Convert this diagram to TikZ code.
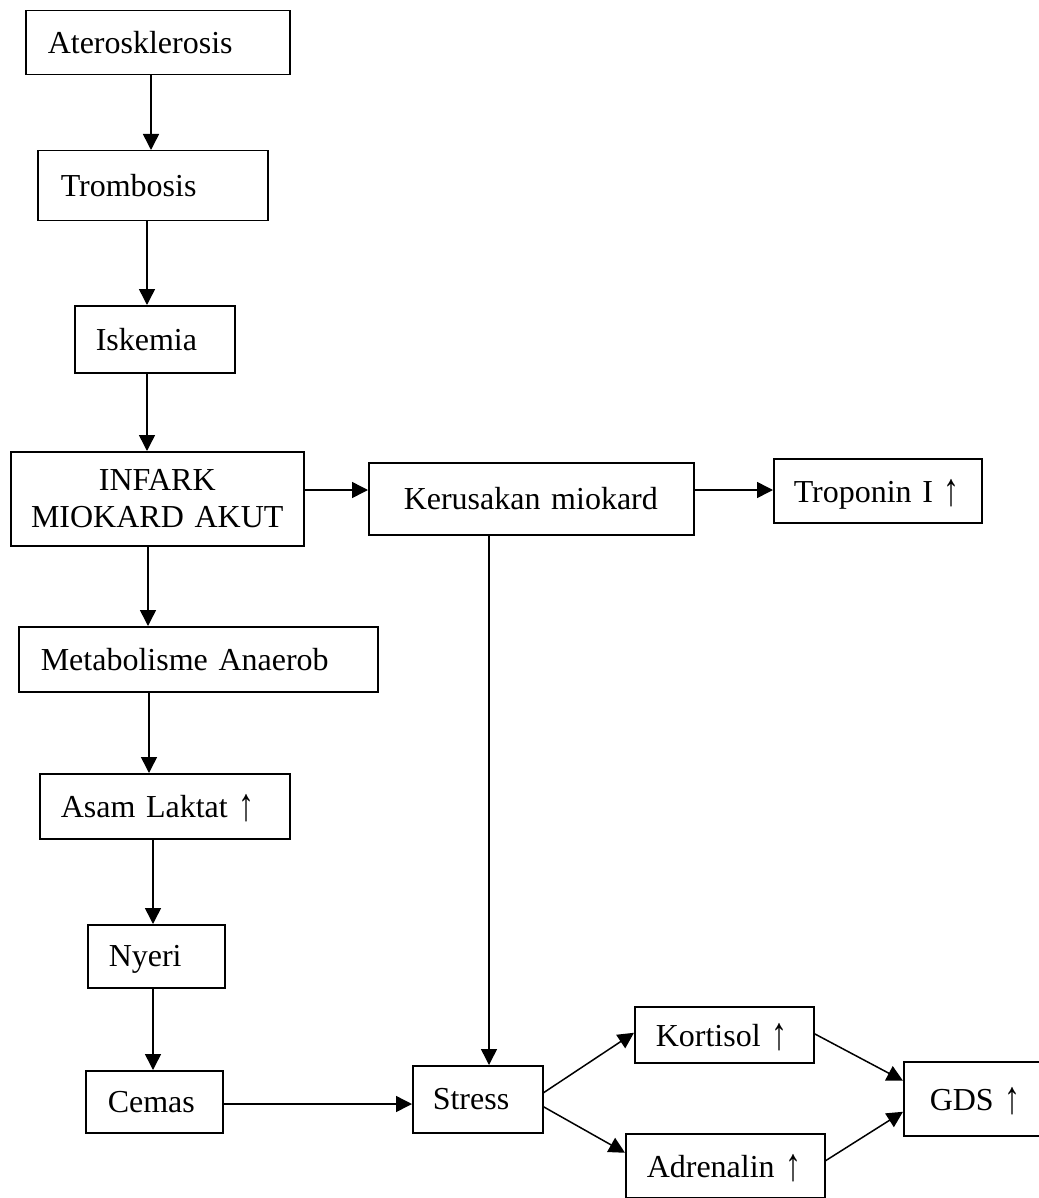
\documentclass[tikz,border=0pt]{standalone}
\usepackage{fontspec}
\setmainfont{Liberation Serif}
\usetikzlibrary{arrows.meta}
\newcommand{\upar}{\raisebox{-0.1em}{\scalebox{1}[1.45]{↑}}}
\begin{document}
\begin{tikzpicture}[x=1pt,y=-1pt,
  box/.style={draw, line width=1.5pt, rectangle, anchor=north west, align=left,
    font=\fontsize{32}{36.5}\selectfont, inner ysep=0pt, text depth=0pt},
  cbox/.style={draw, line width=1.5pt, rectangle, anchor=north west, align=center,
    font=\fontsize{32}{36.5}\selectfont, inner ysep=0pt, inner xsep=0pt},
  arr/.style={line width=1.5pt, -{Triangle[length=16pt,width=16pt]}}]
\useasboundingbox (0,0) rectangle (1038,1198);
% boxes: text width = W - 2*pad
\node[box, inner xsep=22pt, text width=220pt, minimum height=64pt] (ater) at (25,10) {Aterosklerosis};
\node[box, inner xsep=23pt, text width=184pt, minimum height=70pt] (trom) at (37,150) {Trombosis};
\node[box, inner xsep=21pt, text width=118pt, minimum height=67pt] (isk) at (74,305) {Iskemia};
\node[cbox, text width=293pt, minimum height=94pt] (inf) at (10,451) {INFARK\\MIOKARD AKUT};
\node[box, inner xsep=35pt, text width=255pt, minimum height=72pt] (ker) at (368,462) {Kerusakan miokard};
\node[box, inner xsep=20pt, text width=168pt, minimum height=64pt] (trop) at (773,458) {Troponin I \upar};
\node[box, inner xsep=22pt, text width=315pt, minimum height=65pt] (meta) at (18,626) {Metabolisme Anaerob};
\node[box, inner xsep=21pt, text width=208pt, minimum height=65pt] (asam) at (39,773) {Asam Laktat \upar};
\node[box, inner xsep=21pt, text width=95pt, minimum height=63pt] (nyeri) at (87,924) {Nyeri};
\node[box, inner xsep=22pt, text width=93pt, minimum height=62pt] (cemas) at (85,1070) {Cemas};
\node[box, inner xsep=20pt, text width=90pt, minimum height=67pt] (stress) at (412,1065) {Stress};
\node[box, inner xsep=21pt, text width=137pt, minimum height=56pt] (kort) at (634,1006) {Kortisol \upar};
\node[box, inner xsep=21pt, text width=157pt, minimum height=64pt] (adren) at (625,1133) {Adrenalin \upar};
\node[box, inner xsep=26pt, text width=110pt, minimum height=74pt] (gds) at (903,1061) {GDS \upar};
% connectors
\draw[arr] (ater.south -| 151,0) -- (trom.north -| 151,0);
\draw[arr] (trom.south -| 147,0) -- (isk.north -| 147,0);
\draw[arr] (isk.south -| 147,0) -- (inf.north -| 147,0);
\draw[arr] (inf.south -| 148,0) -- (meta.north -| 148,0);
\draw[arr] (meta.south -| 149,0) -- (asam.north -| 149,0);
\draw[arr] (asam.south -| 153,0) -- (nyeri.north -| 153,0);
\draw[arr] (nyeri.south -| 153,0) -- (cemas.north -| 153,0);
\draw[arr] (inf.east |- 0,490) -- (ker.west |- 0,490);
\draw[arr] (ker.east |- 0,490) -- (trop.west |- 0,490);
\draw[arr] (ker.south -| 489,0) -- (stress.north -| 489,0);
\draw[arr] (cemas.east |- 0,1104) -- (stress.west |- 0,1104);
\draw[arr] ([yshift=6.5pt]stress.east) -- ([yshift=2pt]kort.west);
\draw[arr] ([yshift=-7.5pt]stress.east) -- ([yshift=13pt]adren.west);
\draw[arr] ([yshift=1pt]kort.east) -- ([yshift=18pt]gds.west);
\draw[arr] ([yshift=5pt]adren.east) -- ([yshift=-13pt]gds.west);
\end{tikzpicture}
\end{document}
